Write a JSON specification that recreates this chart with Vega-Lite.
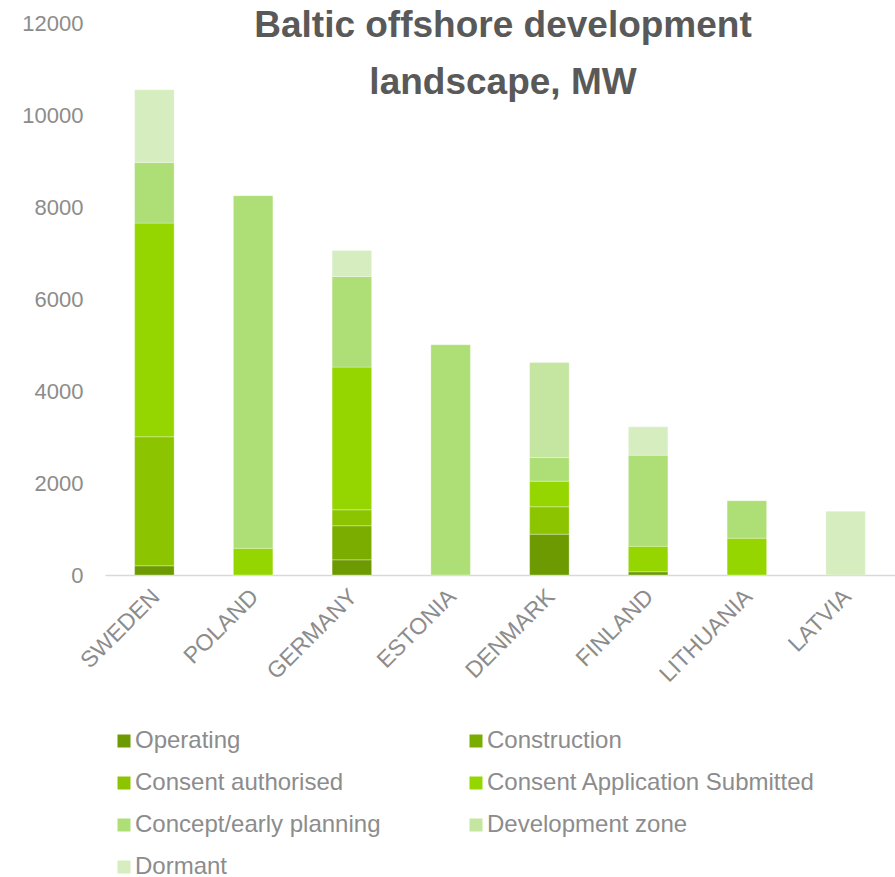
{
  "$schema": "https://vega.github.io/schema/vega-lite/v6.json",
  "width": 790,
  "height": 552,
  "padding": {"top": 7, "left": 21, "right": 0, "bottom": 0},
  "background": "white",
  "config": {
    "view": {"stroke": null},
    "font": "Liberation Sans"
  },
  "title": {
    "text": ["Baltic offshore development", "landscape, MW"],
    "fontSize": 37,
    "fontWeight": "bold",
    "color": "#595959",
    "font": "Liberation Sans",
    "lineHeight": 57,
    "anchor": "middle",
    "offset": -90,
    "dx": 3
  },
  "data": {
    "values": [
      {"country": "SWEDEN", "stage": "Operating", "k": 1, "mw": 200},
      {"country": "SWEDEN", "stage": "Consent authorised", "k": 3, "mw": 2805},
      {"country": "SWEDEN", "stage": "Consent Application Submitted", "k": 4, "mw": 4645},
      {"country": "SWEDEN", "stage": "Concept/early planning", "k": 5, "mw": 1320},
      {"country": "SWEDEN", "stage": "Dormant", "k": 7, "mw": 1580},
      {"country": "POLAND", "stage": "Consent Application Submitted", "k": 4, "mw": 580},
      {"country": "POLAND", "stage": "Concept/early planning", "k": 5, "mw": 7665},
      {"country": "GERMANY", "stage": "Operating", "k": 1, "mw": 330},
      {"country": "GERMANY", "stage": "Construction", "k": 2, "mw": 740},
      {"country": "GERMANY", "stage": "Consent authorised", "k": 3, "mw": 347},
      {"country": "GERMANY", "stage": "Consent Application Submitted", "k": 4, "mw": 3103},
      {"country": "GERMANY", "stage": "Concept/early planning", "k": 5, "mw": 1970},
      {"country": "GERMANY", "stage": "Dormant", "k": 7, "mw": 565},
      {"country": "ESTONIA", "stage": "Concept/early planning", "k": 5, "mw": 5005},
      {"country": "DENMARK", "stage": "Operating", "k": 1, "mw": 887},
      {"country": "DENMARK", "stage": "Consent authorised", "k": 3, "mw": 596},
      {"country": "DENMARK", "stage": "Consent Application Submitted", "k": 4, "mw": 557},
      {"country": "DENMARK", "stage": "Concept/early planning", "k": 5, "mw": 515},
      {"country": "DENMARK", "stage": "Development zone", "k": 6, "mw": 2065},
      {"country": "FINLAND", "stage": "Operating", "k": 1, "mw": 70},
      {"country": "FINLAND", "stage": "Consent Application Submitted", "k": 4, "mw": 556},
      {"country": "FINLAND", "stage": "Concept/early planning", "k": 5, "mw": 1979},
      {"country": "FINLAND", "stage": "Dormant", "k": 7, "mw": 617},
      {"country": "LITHUANIA", "stage": "Consent Application Submitted", "k": 4, "mw": 800},
      {"country": "LITHUANIA", "stage": "Concept/early planning", "k": 5, "mw": 813},
      {"country": "LATVIA", "stage": "Dormant", "k": 7, "mw": 1387}
    ]
  },
  "mark": {"type": "bar", "stroke": "#ffffff", "strokeWidth": 0.6, "strokeOpacity": 0.5},
  "encoding": {
    "x": {
      "field": "country",
      "type": "nominal",
      "sort": ["SWEDEN", "POLAND", "GERMANY", "ESTONIA", "DENMARK", "FINLAND", "LITHUANIA", "LATVIA"],
      "scale": {"paddingInner": 0.6, "paddingOuter": 0.3},
      "axis": {
        "title": null,
        "labelAngle": -45,
        "labelFontSize": 23,
        "labelColor": "#8c8c8c",
        "labelPadding": 10,
        "labelOffset": -6,
        "ticks": false,
        "domainColor": "#d9d9d9",
        "domainWidth": 1.5,
        "grid": false
      }
    },
    "y": {
      "field": "mw",
      "type": "quantitative",
      "stack": "zero",
      "scale": {"domain": [0, 12000], "nice": false},
      "axis": {
        "title": null,
        "values": [0, 2000, 4000, 6000, 8000, 10000, 12000],
        "format": "d",
        "labelFontSize": 22,
        "labelColor": "#8c8c8c",
        "labelPadding": 22,
        "ticks": false,
        "domain": false,
        "grid": false
      }
    },
    "color": {
      "field": "stage",
      "type": "nominal",
      "scale": {
        "domain": ["Operating", "Construction", "Consent authorised", "Consent Application Submitted", "Concept/early planning", "Development zone", "Dormant"],
        "range": ["#6d9a00", "#7aad00", "#8cc400", "#96d600", "#aede76", "#c5e6a0", "#d6edc0"]
      },
      "legend": {
        "title": null,
        "orient": "none",
        "legendX": 7,
        "legendY": 706,
        "columns": 2,
        "direction": "horizontal",
        "columnPadding": 83,
        "rowPadding": 18,
        "symbolType": "square",
        "symbolSize": 169,
        "symbolStrokeWidth": 0,
        "symbolOffset": 0,
        "labelFontSize": 24,
        "labelColor": "#8c8c8c",
        "labelOffset": -1,
        "labelLimit": 400,
        "padding": 0
      }
    },
    "order": {"field": "k", "type": "quantitative", "sort": "ascending"}
  }
}
